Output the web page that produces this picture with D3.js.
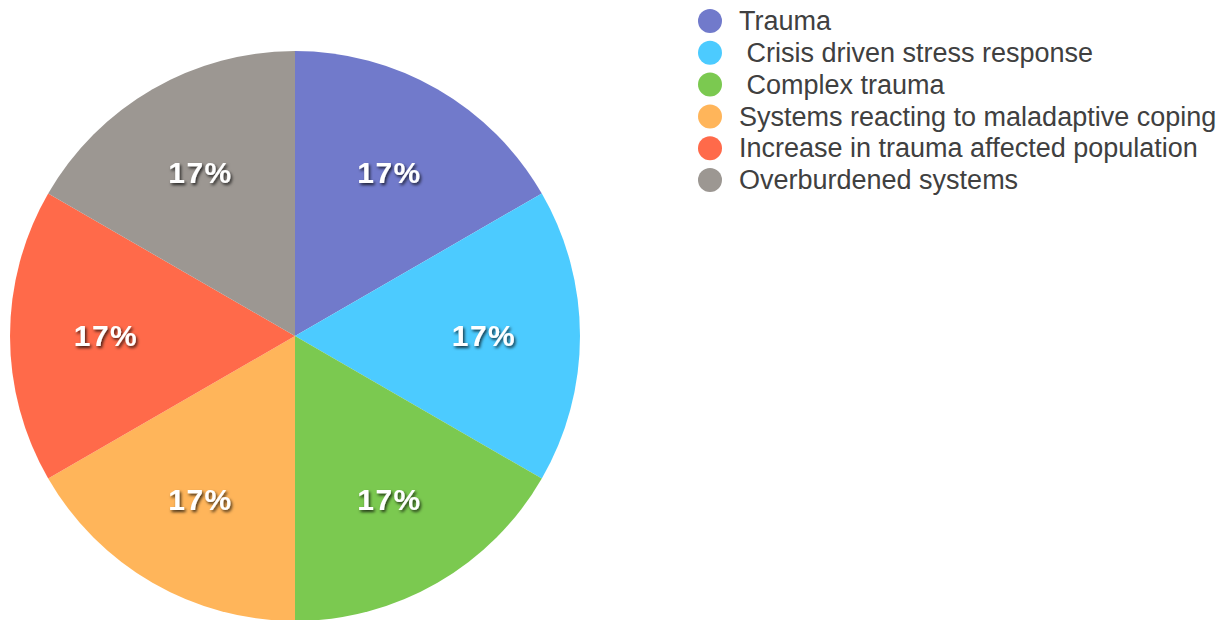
<!DOCTYPE html>
<html><head><meta charset="utf-8">
<script src="https://cdn.jsdelivr.net/npm/d3@7"></script>
<style>
html,body{margin:0;padding:0;background:#fff;overflow:hidden}
svg{display:block}
text{white-space:pre}
</style></head>
<body>
<svg id="chart" width="1226" height="620"></svg>
<script>
const categories = ["Trauma", " Crisis driven stress response", " Complex trauma", "Systems reacting to maladaptive coping", "Increase in trauma affected population", "Overburdened systems"];
const values = [1, 1, 1, 1, 1, 1];
const valueLabels = ["17%", "17%", "17%", "17%", "17%", "17%"];
const colors = ["#717acb", "#4ccbff", "#7bc950", "#ffb55a", "#ff6a4a", "#9c9792"];

const svg = d3.select("#chart");
const defs = svg.append("defs");
const f = defs.append("filter").attr("id","shadow").attr("x","-20%").attr("y","-30%").attr("width","140%").attr("height","160%");
f.append("feDropShadow").attr("dx",1.5).attr("dy",2).attr("stdDeviation",1.6).attr("flood-color","#000").attr("flood-opacity",0.75);

const cx = 295, cy = 336, R = 285;
const pie = d3.pie().value(d => d).sort(null);
const arcs = pie(values);
const arc = d3.arc().innerRadius(0).outerRadius(R);
const labelArc = d3.arc().innerRadius(189).outerRadius(189);

const g = svg.append("g").attr("transform", `translate(${cx},${cy})`);
g.selectAll("path").data(arcs).join("path")
  .attr("d", arc).attr("fill", (d,i) => colors[i]);
g.selectAll("text").data(arcs).join("text")
  .attr("transform", d => `translate(${labelArc.centroid(d)})`)
  .attr("text-anchor","middle").attr("dy","0.34em")
  .attr("font-family","Liberation Sans, Arial, sans-serif")
  .attr("font-weight","bold").attr("font-size",30).attr("letter-spacing",1.5)
  .attr("fill","#fff").attr("filter","url(#shadow)")
  .text((d,i) => valueLabels[i]);

const y = d3.scalePoint().domain(categories).range([21, 180]);
const leg = svg.append("g");
const items = leg.selectAll("g").data(categories).join("g")
  .attr("transform", d => `translate(0,${y(d)})`);
items.append("circle").attr("cx", 710).attr("cy", 0).attr("r", 12).attr("fill", (d,i) => colors[i]);
items.append("text").attr("x", 739).attr("dy","0.34em")
  .attr("font-family","Liberation Sans, Arial, sans-serif")
  .attr("font-size", 27).attr("fill","#404040")
  .text(d => d);
</script>
</body></html>
